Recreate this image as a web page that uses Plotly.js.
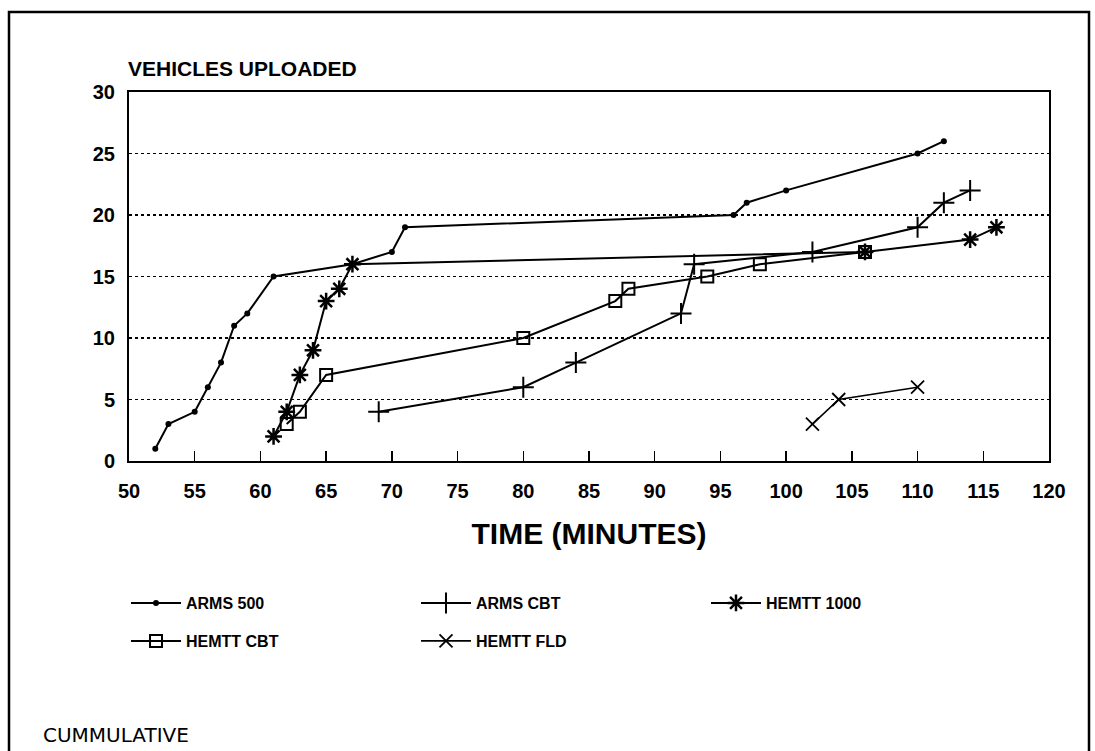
<!DOCTYPE html>
<html>
<head>
<meta charset="utf-8">
<script src="https://cdn.plot.ly/plotly-3.0.1.min.js"></script>
<style>
  html, body { margin: 0; padding: 0; background: #fff; }
  #chart { width: 1095px; height: 751px; }
</style>
</head>
<body>
<div id="chart"></div>
<script>
// ---- data ----
const arms500X = [52, 53, 55, 56, 57, 58, 59, 61, 67, 70, 71, 96, 97, 100, 110, 112];
const arms500Y = [1, 3, 4, 6, 8, 11, 12, 15, 16, 17, 19, 20, 21, 22, 25, 26];

const armsCbtX = [69, 80, 84, 92, 93, 102, 110, 112, 114];
const armsCbtY = [4, 6, 8, 12, 16, 17, 19, 21, 22];

const hemtt1000X = [61, 62, 63, 64, 65, 66, 67, 106, 114, 116];
const hemtt1000Y = [2, 4, 7, 9, 13, 14, 16, 17, 18, 19];

const hemttCbtX = [62, 63, 65, 80, 87, 88, 94, 98, 106];
const hemttCbtY = [3, 4, 7, 10, 13, 14, 15, 16, 17];

const hemttFldX = [102, 104, 110];
const hemttFldY = [3, 5, 6];

const xTickVals = [50, 55, 60, 65, 70, 75, 80, 85, 90, 95, 100, 105, 110, 115, 120];
const yTickVals = [0, 5, 10, 15, 20, 25, 30];

const seriesNames = ['ARMS 500', 'ARMS CBT', 'HEMTT 1000', 'HEMTT CBT', 'HEMTT FLD'];

const titleY = 'VEHICLES UPLOADED';
const titleX = 'TIME (MINUTES)';
const footNote = 'CUMMULATIVE';

// ---- chart ----
const FONT = 'Liberation Sans, Arial, sans-serif';
const lineStyle = { color: '#000', width: 2 };

const traces = [
  { x: arms500X, y: arms500Y, name: seriesNames[0], mode: 'lines+markers', legend: 'legend',
    line: lineStyle, marker: { symbol: 'circle', size: 6, color: '#000' } },
  { x: armsCbtX, y: armsCbtY, name: seriesNames[1], mode: 'lines+markers', legend: 'legend',
    line: lineStyle, marker: { symbol: 'cross-thin', size: 15, color: '#000', line: { color: '#000', width: 2 } } },
  { x: hemtt1000X, y: hemtt1000Y, name: seriesNames[2], mode: 'lines+markers', legend: 'legend',
    line: lineStyle, marker: { symbol: 'asterisk', size: 14, color: '#000', line: { color: '#000', width: 2.5 } } },
  { x: hemttCbtX, y: hemttCbtY, name: seriesNames[3], mode: 'lines+markers', legend: 'legend2',
    line: lineStyle, marker: { symbol: 'square-open', size: 12, color: '#000', line: { color: '#000', width: 2 } } },
  { x: hemttFldX, y: hemttFldY, name: seriesNames[4], mode: 'lines+markers', legend: 'legend2',
    line: { color: '#000', width: 1.6 }, marker: { symbol: 'x-thin', size: 13, color: '#000', line: { color: '#000', width: 1.8 } } }
];

// plot area: left 129, right 1049, top 92, bottom 461
const W = 1095, H = 751, L = 129, R = 46, T = 92, B = 290;
const pw = W - L - R, ph = H - T - B;
const px = v => (v - L) / pw;          // pixel x -> paper x
const py = v => (H - B - v) / ph;      // pixel y -> paper y

const legendCommon = {
  orientation: 'h', xanchor: 'left', yanchor: 'middle',
  font: { family: FONT, size: 16, weight: 'bold', color: '#000' },
  itemwidth: 50,
  entrywidth: 225, entrywidthmode: 'pixels', bgcolor: 'rgba(0,0,0,0)', borderwidth: 0,
  itemclick: false, itemdoubleclick: false
};

const layout = {
  width: W, height: H,
  margin: { l: L, r: R, t: T, b: B, pad: 0 },
  paper_bgcolor: '#fff', plot_bgcolor: '#fff',
  font: { family: FONT, color: '#000' },
  showlegend: true,
  legend: Object.assign({}, legendCommon, { x: px(126), y: py(603) }),
  legend2: Object.assign({}, legendCommon, { x: px(126), y: py(641) }),
  xaxis: {
    range: [50, 120], tickvals: xTickVals, ticktext: xTickVals.map(String),
    showgrid: false, zeroline: false,
    showline: true, mirror: true, linecolor: '#000', linewidth: 2,
    ticks: 'inside', ticklen: 10, tickwidth: 1.5, tickcolor: '#000',
    ticklabelstandoff: 11,
    tickfont: { family: FONT, size: 20, weight: 'bold', color: '#000' },
    title: { text: titleX, standoff: 22, font: { family: FONT, size: 30, weight: 'bold', color: '#000' } }
  },
  yaxis: {
    range: [0, 30], tickvals: yTickVals, ticktext: yTickVals.map(String),
    showgrid: true, gridcolor: '#000', gridwidth: 1.5, griddash: 'dot',
    zeroline: false,
    showline: true, mirror: true, linecolor: '#000', linewidth: 2,
    ticks: '', ticklabelstandoff: 8,
    tickfont: { family: FONT, size: 20, weight: 'bold', color: '#000' }
  },
  annotations: [
    { text: titleY, xref: 'paper', yref: 'paper', x: px(126), y: py(68), xanchor: 'left', yanchor: 'middle',
      showarrow: false, font: { family: FONT, size: 21, weight: 'bold', color: '#000' } },
    { text: footNote, xref: 'paper', yref: 'paper', x: px(41), y: py(735), xanchor: 'left', yanchor: 'middle',
      showarrow: false, font: { family: 'DejaVu Sans, sans-serif', size: 20, color: '#000' } }
  ],
  shapes: [
    { type: 'rect', xref: 'paper', yref: 'paper', x0: px(9), x1: px(1089), y0: py(770), y1: py(12),
      line: { color: '#000', width: 2.5 }, fillcolor: 'rgba(0,0,0,0)', layer: 'above' }
  ]
};

Plotly.newPlot('chart', traces, layout, { displayModeBar: false, staticPlot: true });
</script>
</body>
</html>
